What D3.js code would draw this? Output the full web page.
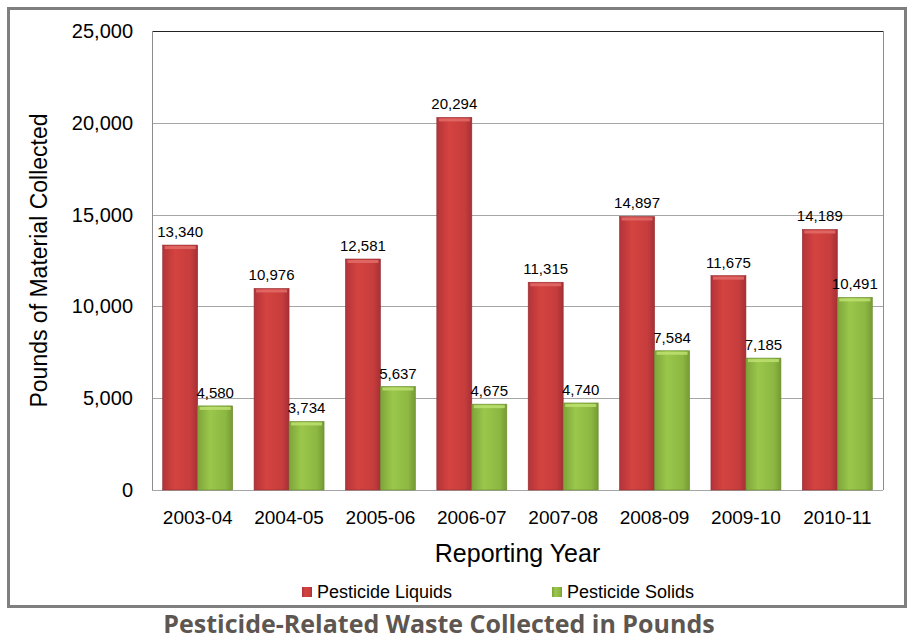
<!DOCTYPE html>
<html>
<head>
<meta charset="utf-8">
<script src="https://cdn.jsdelivr.net/npm/d3@7"></script>
<style>
  body { margin: 0; background: #fff; }
  svg { display: block; }
</style>
</head>
<body>
<svg id="chart" width="913" height="640"></svg>
<script>
const years = ['2003-04', '2004-05', '2005-06', '2006-07', '2007-08', '2008-09', '2009-10', '2010-11'];
const liquids = [13340, 10976, 12581, 20294, 11315, 14897, 11675, 14189];
const solids = [4580, 3734, 5637, 4675, 4740, 7584, 7185, 10491];
const seriesNames = ['Pesticide Liquids', 'Pesticide Solids'];
const yTicks = [0, 5000, 10000, 15000, 20000, 25000];

const margin = { top: 31, left: 152 },
	plotW = 883 - margin.left,
	plotH = 490 - margin.top;

const font = 'Liberation Sans, Arial, sans-serif';
const fmt = d3.format(',');
const svg = d3.select('#chart');

// gradients for the bevelled bars
const defs = svg.append('defs');
const grads = [
	{ id: 'gRed', stops: ['#b3343a', '#d4433f', '#c63d3d', '#a63035'] },
	{ id: 'gGreen', stops: ['#7ea43a', '#9ac74b', '#8cb742', '#769a33'] }
];
grads.forEach(g => {
	const lg = defs.append('linearGradient').attr('id', g.id)
		.attr('x1', '0%').attr('x2', '100%').attr('y1', '0%').attr('y2', '0%');
	[0, 0.35, 0.8, 1].forEach((o, i) => lg.append('stop').attr('offset', o).attr('stop-color', g.stops[i]));
});
const topFill = ['#e36c68', '#bde070'];
const barFill = ['url(#gRed)', 'url(#gGreen)'];

// outer frame
svg.append('rect')
	.attr('x', 8.5).attr('y', 8.5)
	.attr('width', 897).attr('height', 598)
	.attr('fill', 'none').attr('stroke', '#7f7f7f').attr('stroke-width', 3);

const g = svg.append('g').attr('transform', `translate(${margin.left},${margin.top})`);

const x = d3.scaleBand().domain(years).range([0, plotW]).paddingInner(0.234).paddingOuter(0.117);
const x1 = d3.scaleBand().domain([0, 1]).range([0, x.bandwidth()]);
const y = d3.scaleLinear().domain([0, 25000]).range([plotH, 0]);

// gridlines
g.selectAll('line.grid').data(yTicks).join('line')
	.attr('class', 'grid')
	.attr('x1', 0).attr('x2', plotW)
	.attr('y1', d => Math.round(y(d)) + 0.5).attr('y2', d => Math.round(y(d)) + 0.5)
	.attr('stroke', d => d === 25000 ? '#222' : '#a6a6a6').attr('stroke-width', 1);

// plot frame sides
g.append('line').attr('x1', 0.5).attr('x2', 0.5).attr('y1', 0).attr('y2', plotH).attr('stroke', '#8c8c8c');
g.append('line').attr('x1', plotW + 0.5).attr('x2', plotW + 0.5).attr('y1', 0).attr('y2', plotH).attr('stroke', '#8c8c8c');

// y axis labels
const yAxis = g.append('g').call(d3.axisLeft(y).tickValues(yTicks).tickFormat(fmt).tickSize(0).tickPadding(19));
yAxis.select('.domain').remove();
yAxis.selectAll('text').attr('font-family', font).attr('font-size', 20).attr('fill', '#000');

// x axis labels
const xAxis = g.append('g').attr('transform', `translate(0,${plotH})`)
	.call(d3.axisBottom(x).tickSize(0).tickPadding(21));
xAxis.select('.domain').remove();
xAxis.selectAll('text').attr('font-family', font).attr('font-size', 19).attr('fill', '#000');

// bars
const series = [liquids, solids];
series.forEach((vals, si) => {
	const grp = g.append('g');
	const bx = (d, i) => x(years[i]) + x1(si);
	grp.selectAll('rect.bar').data(vals).join('rect')
		.attr('class', 'bar')
		.attr('x', bx)
		.attr('y', d => y(d))
		.attr('width', x1.bandwidth())
		.attr('height', d => plotH - y(d))
		.attr('fill', barFill[si])
		.attr('stroke', si === 0 ? '#932c30' : '#6a8b2e').attr('stroke-width', 0.6);
	// top bevel highlight
	grp.selectAll('rect.top').data(vals).join('rect')
		.attr('class', 'top')
		.attr('x', (d, i) => bx(d, i) + 2)
		.attr('y', d => y(d) + 1)
		.attr('width', x1.bandwidth() - 4)
		.attr('height', 3)
		.attr('fill', topFill[si]).attr('opacity', 0.85);
	grp.selectAll('text').data(vals).join('text')
		.attr('x', (d, i) => bx(d, i) + x1.bandwidth() / 2)
		.attr('y', d => y(d) - 8)
		.attr('text-anchor', 'middle')
		.attr('font-family', font)
		.attr('font-size', 15)
		.text(d => fmt(d));
});

// axis titles
svg.append('text')
	.attr('transform', `translate(47,${margin.top + plotH / 2}) rotate(-90)`)
	.attr('text-anchor', 'middle')
	.attr('font-family', font)
	.attr('font-size', 23)
	.text('Pounds of Material Collected');

svg.append('text')
	.attr('x', margin.left + plotW / 2).attr('y', 562)
	.attr('text-anchor', 'middle')
	.attr('font-family', font)
	.attr('font-size', 25)
	.text('Reporting Year');

// legend
const legX = [302, 552];
seriesNames.forEach((name, i) => {
	svg.append('rect').attr('x', legX[i]).attr('y', 587).attr('width', 10).attr('height', 10)
		.attr('fill', barFill[i]);
	svg.append('text').attr('x', legX[i] + 15).attr('y', 598)
		.attr('font-family', font)
		.attr('font-size', 18)
		.text(name);
});

// chart title
svg.append('text')
	.attr('x', 439).attr('y', 633)
	.attr('text-anchor', 'middle')
	.attr('font-family', 'Open Sans, sans-serif')
	.attr('font-weight', 'bold')
	.attr('font-size', 25)
	.attr('fill', '#5e5650')
	.text('Pesticide-Related Waste Collected in Pounds');
</script>
</body>
</html>
